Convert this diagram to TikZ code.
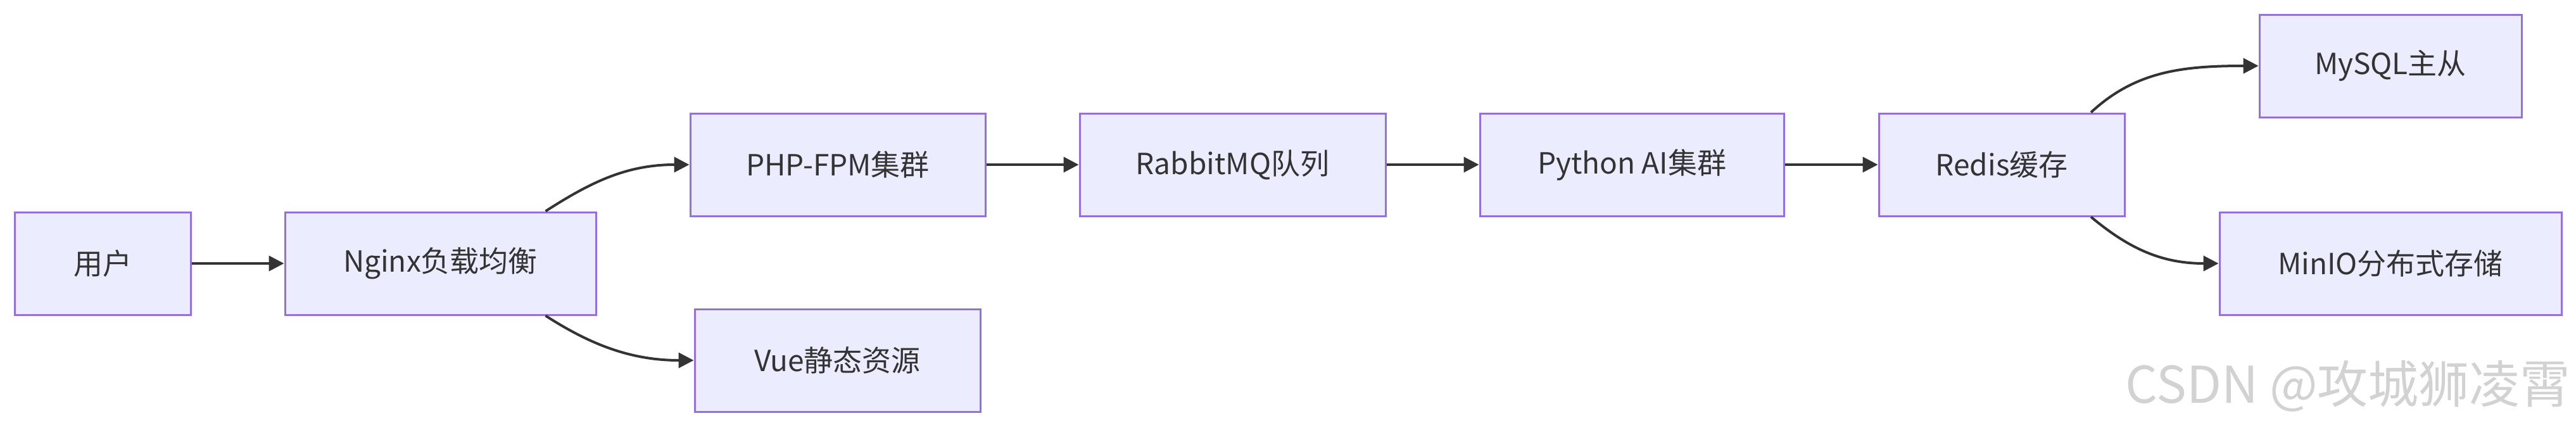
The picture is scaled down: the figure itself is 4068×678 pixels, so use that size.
\documentclass[tikz,border=0pt]{standalone}
\usepackage{fontspec}
\setmainfont{Noto Sans CJK SC}
\usetikzlibrary{arrows.meta}
\definecolor{nodefill}{HTML}{ECECFF}
\definecolor{nodeborder}{HTML}{9370DB}
\definecolor{edgecol}{HTML}{333333}
\definecolor{wmcol}{HTML}{D2D2D2}
\begin{document}
\begin{tikzpicture}[x=1pt,y=-1pt,
  box/.style={draw=nodeborder, fill=nodefill, line width=3pt, minimum height=162pt,
    inner sep=0pt, font=\fontsize{46}{55}\selectfont, text=edgecol},
  edge/.style={draw=edgecol, line width=4pt, -{Triangle[length=24pt,width=24pt]}}]
\fill[white] (0,0) rectangle (4068,678);
\useasboundingbox (0,0) rectangle (4068,678);

\node[box, minimum width=278pt] (user) at (162,416) {用户};
\node[box, minimum width=491pt] (nginx) at (695.5,416) {Nginx负载均衡};
\node[box, minimum width=466pt] (php) at (1323,260) {PHP-FPM集群};
\node[box, minimum width=451pt] (vue) at (1322.5,569) {Vue静态资源};
\node[box, minimum width=483pt] (rabbit) at (1946.5,260) {RabbitMQ队列};
\node[box, minimum width=480pt] (python) at (2577,260) {Python AI集群};
\node[box, minimum width=388pt] (redis) at (3161,260) {Redis缓存};
\node[box, minimum width=414pt] (mysql) at (3775,104) {MySQL主从};
\node[box, minimum width=540pt] (minio) at (3775,416) {MinIO分布式存储};

\draw[edge] (user) -- (nginx);
\draw[edge] ([xshift=166pt]nginx.north) .. controls +(70,-45) and +(-100,0) .. (php.west);
\draw[edge] ([xshift=166pt]nginx.south) .. controls +(70,45) and +(-100,0) .. (vue.west);
\draw[edge] (php) -- (rabbit);
\draw[edge] (rabbit) -- (python);
\draw[edge] (python) -- (redis);
\draw[edge] ([xshift=141pt]redis.north) .. controls +(70,-65) and +(-120,0) .. (mysql.west);
\draw[edge] ([xshift=141pt]redis.south) .. controls +(60,50) and +(-90,0) .. (minio.west);

\node[anchor=east, inner sep=0pt, text=wmcol, font=\fontsize{80}{84}\selectfont] (wm) at (4060,610) {CSDN @攻城狮凌霄};
\end{tikzpicture}
\end{document}
